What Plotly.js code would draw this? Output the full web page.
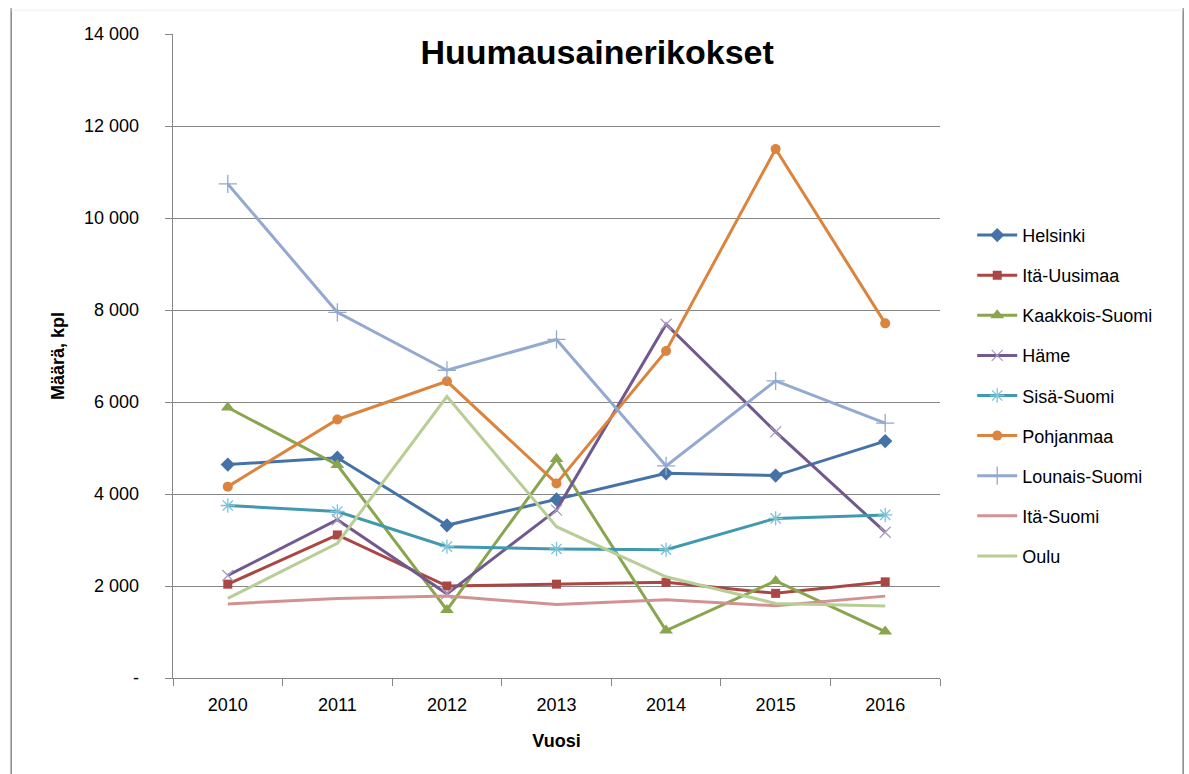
<!DOCTYPE html>
<html>
<head>
<meta charset="utf-8">
<script src="https://cdn.plot.ly/plotly-3.0.1.min.js"></script>
<style>html,body{margin:0;padding:0;background:#fff;}#chart{width:1189px;height:774px;}</style>
</head>
<body>
<div id="chart"></div>
<script>
const years = ["2010","2011","2012","2013","2014","2015","2016"];
const helsinki    = [4640, 4790, 3320, 3880, 4450, 4400, 5150];
const itaUusimaa  = [2040, 3110, 2000, 2040, 2080, 1840, 2090];
const kaakkois    = [5880, 4630, 1480, 4760, 1030, 2110, 1010];
const hame        = [2230, 3440, 1830, 3650, 7690, 5350, 3170];
const sisa        = [3750, 3620, 2855, 2805, 2790, 3470, 3545];
const pohjanmaa   = [4160, 5620, 6450, 4230, 7110, 11500, 7710];
const lounais     = [10740, 7950, 6690, 7360, 4610, 6460, 5540];
const itaSuomi    = [1610, 1730, 1780, 1600, 1700, 1570, 1780];
const oulu        = [1730, 2930, 6120, 3290, 2200, 1620, 1565];

const yTickVals = [0, 2000, 4000, 6000, 8000, 10000, 12000, 14000];
const yTickText = ["-", "2 000", "4 000", "6 000", "8 000", "10 000", "12 000", "14 000"];

const FONT = "Liberation Sans, Arial, sans-serif";

function tr(name, y, color, marker, mcolor, msize, mline) {
  const t = {
    x: years, y: y, name: name, type: "scatter",
    mode: marker ? "lines+markers" : "lines",
    line: {color: color, width: 3},
    legendgroup: name
  };
  if (marker) {
    t.marker = {symbol: marker, color: mcolor || color, size: msize || 8,
                line: mline || {width: 0}};
  }
  return t;
}

const data = [
  tr("Helsinki", helsinki, "#4572A7", "diamond", null, 11),
  tr("Itä-Uusimaa", itaUusimaa, "#AA4643", "square", null, 9),
  tr("Kaakkois-Suomi", kaakkois, "#89A54E", "triangle-up", null, 12),
  tr("Häme", hame, "#71588F", "x-thin", null, 11, {color: "#A99BC0", width: 1.3}),
  tr("Sisä-Suomi", sisa, "#4198AF", "asterisk", null, 12, {color: "#7CC3D8", width: 1.3}),
  tr("Pohjanmaa", pohjanmaa, "#DB843D", "circle", null, 10),
  tr("Lounais-Suomi", lounais, "#93A9CF", "cross-thin", null, 13, {color: "#93A9CF", width: 1.3}),
  tr("Itä-Suomi", itaSuomi, "#D19392", null),
  tr("Oulu", oulu, "#B9CD96", null)
];

const layout = {
  width: 1189, height: 774,
  margin: {l: 173, r: 249, t: 34, b: 96},
  paper_bgcolor: "#ffffff", plot_bgcolor: "#ffffff",
  font: {family: FONT, size: 18, color: "#000"},
  title: {
    text: "<b>Huumausainerikokset</b>",
    font: {family: FONT, size: 34, color: "#000"},
    x: 0.553, xref: "paper", y: 0.972, yref: "paper",
    xanchor: "center", yanchor: "middle"
  },
  xaxis: {
    type: "category",
    range: [-0.5, 6.5],
    tickson: "boundaries",
    ticks: "outside", ticklen: 7, tickcolor: "#868686", tickwidth: 1,
    ticklabelstandoff: 10,
    showline: true, linecolor: "#868686", linewidth: 1.3,
    showgrid: false, zeroline: false,
    tickfont: {family: FONT, size: 18, color: "#000"},
    title: {text: "<b>Vuosi</b>", font: {family: FONT, size: 18, color: "#000"}, standoff: 20}
  },
  yaxis: {
    range: [0, 14000],
    tickvals: yTickVals, ticktext: yTickText,
    ticks: "outside", ticklen: 7, tickcolor: "#868686", tickwidth: 1,
    ticklabelstandoff: 22,
    showline: true, linecolor: "#868686", linewidth: 1.3,
    showgrid: true, gridcolor: "#868686", gridwidth: 1,
    zeroline: false,
    tickfont: {family: FONT, size: 18, color: "#000"},
    title: {text: "<b>Määrä, kpl</b>", font: {family: FONT, size: 18, color: "#000"}, standoff: 14}
  },
  legend: {
    x: 1.042, xanchor: "left", y: 0.716, yanchor: "top",
    font: {family: FONT, size: 18, color: "#000"},
    traceorder: "grouped", tracegroupgap: 13.7,
    bgcolor: "rgba(0,0,0,0)", itemwidth: 40
  },
  showlegend: true,
  shapes: [
    {type: "line", xref: "paper", yref: "paper", x0: -0.211, x1: -0.211, y0: -0.2, y1: 1.04,
     line: {color: "#868686", width: 1.5}},
    {type: "line", xref: "paper", yref: "paper", x0: 1.317, x1: 1.317, y0: -0.2, y1: 1.04,
     line: {color: "#868686", width: 1.5}},
    {type: "line", xref: "paper", yref: "paper", x0: -0.211, x1: 1.317, y0: 1.037, y1: 1.037,
     line: {color: "#EEEEEE", width: 1}}
  ]
};

Plotly.newPlot("chart", data, layout, {displayModeBar: false, staticPlot: true});
</script>
</body>
</html>
